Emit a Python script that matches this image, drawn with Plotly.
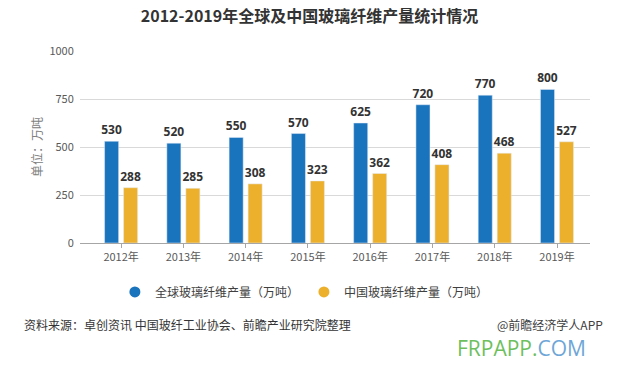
import plotly.graph_objects as go

years = ["2012年", "2013年", "2014年", "2015年", "2016年", "2017年", "2018年", "2019年"]
global_prod = [530, 520, 550, 570, 625, 720, 770, 800]
china_prod = [288, 285, 308, 323, 362, 408, 468, 527]
series_names = ["全球玻璃纤维产量（万吨）", "中国玻璃纤维产量（万吨）"]
y_ticks = [0, 250, 500, 750, 1000]

FONT = "Noto Sans CJK SC"
BLUE = "#1a73bd"
ORANGE = "#edb02c"

label_font = dict(size=12, color="#333333", family="Open Sans", weight="bold")

fig = go.Figure()
for vals, name, col in [(global_prod, series_names[0], BLUE), (china_prod, series_names[1], ORANGE)]:
    fig.add_trace(go.Bar(
        x=years, y=vals, name=name, marker_color=col,
        text=vals, textposition="outside", textfont=label_font,
        constraintext="none", cliponaxis=False, showlegend=False,
    ))
for name, col in [(series_names[0], BLUE), (series_names[1], ORANGE)]:
    fig.add_trace(go.Scatter(
        x=[None], y=[None], mode="markers", name=name,
        marker=dict(symbol="circle", size=11, color=col),
    ))

fig.update_layout(
    width=619, height=366,
    paper_bgcolor="white", plot_bgcolor="white",
    margin=dict(l=80, r=29, t=51, b=123, autoexpand=False),
    barmode="group", bargap=0.39, bargroupgap=0.26,
    font=dict(family=FONT, color="#595959", size=12),
    title=dict(text="<b>2012-2019年全球及中国玻璃纤维产量统计情况</b>",
               x=0.5, xanchor="center", y=0.955, yanchor="middle",
               font=dict(size=16, color="#333333", family=FONT)),
    showlegend=True,
    legend=dict(orientation="h", x=0.44, xanchor="center", y=-0.255, yanchor="middle",
                font=dict(size=12, color="#404040", family=FONT),
                traceorder="normal", itemwidth=30),
    xaxis=dict(range=[-0.66, 7.53], showgrid=False, showline=True, linecolor="#a6a6a6", linewidth=1,
               ticks="outside", ticklen=4, tickcolor="#a6a6a6",
               tickfont=dict(size=11, color="#595959")),
    yaxis=dict(range=[0, 1000], tickvals=y_ticks, showgrid=True, gridcolor="#d9d9d9",
               zeroline=False, ticks="outside", ticklen=3, tickcolor="white",
               tickfont=dict(size=11, color="#595959"),
               title=dict(text="单位：万吨", font=dict(size=12, color="#808080"), standoff=4)),
)

fig.add_annotation(text="资料来源：卓创资讯 中国玻纤工业协会、前瞻产业研究院整理",
                   xref="paper", yref="paper", x=-0.114, y=-0.427, xanchor="left", yanchor="middle",
                   showarrow=False, font=dict(size=12, color="#333333", family=FONT))
fig.add_annotation(text="@前瞻经济学人APP",
                   xref="paper", yref="paper", x=1.03, y=-0.427, xanchor="right", yanchor="middle",
                   showarrow=False, font=dict(size=12, color="#404040", family=FONT))
fig.add_annotation(text="<span style='color:#6dbf5e'>FRPAPP.</span><span style='color:#6ea6d8'>COM</span>",
                   xref="paper", yref="paper", x=0.996, y=-0.545, xanchor="right", yanchor="middle",
                   showarrow=False, font=dict(size=21, family="Open Sans"))

fig.write_html("out.html", config={"displayModeBar": False},
               post_script="document.body.style.margin='0';document.body.style.overflow='hidden';")
